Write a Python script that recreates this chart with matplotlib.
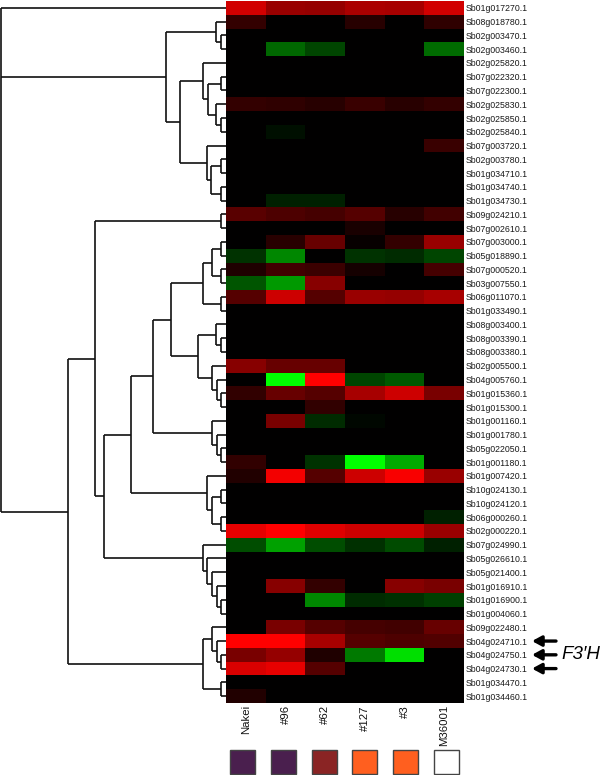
import matplotlib
matplotlib.use("Agg")
import matplotlib.pyplot as plt
import numpy as np
from matplotlib.colors import LinearSegmentedColormap
from matplotlib.patches import Rectangle

# ---------------- data ----------------
genes = ["Sb01g017270.1", "Sb08g018780.1", "Sb02g003470.1", "Sb02g003460.1", "Sb02g025820.1",
         "Sb07g022320.1", "Sb07g022300.1", "Sb02g025830.1", "Sb02g025850.1", "Sb02g025840.1",
         "Sb07g003720.1", "Sb02g003780.1", "Sb01g034710.1", "Sb01g034740.1", "Sb01g034730.1",
         "Sb09g024210.1", "Sb07g002610.1", "Sb07g003000.1", "Sb05g018890.1", "Sb07g000520.1",
         "Sb03g007550.1", "Sb06g011070.1", "Sb01g033490.1", "Sb08g003400.1", "Sb08g003390.1",
         "Sb08g003380.1", "Sb02g005500.1", "Sb04g005760.1", "Sb01g015360.1", "Sb01g015300.1",
         "Sb01g001160.1", "Sb01g001780.1", "Sb05g022050.1", "Sb01g001180.1", "Sb01g007420.1",
         "Sb10g024130.1", "Sb10g024120.1", "Sb06g000260.1", "Sb02g000220.1", "Sb07g024990.1",
         "Sb05g026610.1", "Sb05g021400.1", "Sb01g016910.1", "Sb01g016900.1", "Sb01g004060.1",
         "Sb09g022480.1", "Sb04g024710.1", "Sb04g024750.1", "Sb04g024730.1", "Sb01g034470.1",
         "Sb01g034460.1"]

samples = ["Nakei", "#96", "#62", "#127", "#3", "M36001"]

nakei = [0.82, 0.2, 0, 0, 0, 0, 0, 0.2, 0, 0,
         0, 0, 0, 0, 0, 0.35, 0, 0, -0.2, 0.12,
         -0.33, 0.33, 0, 0, 0, 0, 0.53, 0, 0.19, 0,
         0, 0, 0, 0.19, 0.13, 0, 0, 0, 0.9, -0.3,
         0, 0, 0, 0, 0, 0, 1.0, 0.47, 0.85, 0,
         0.13]
s96 = [0.6, 0, 0, -0.4, 0, 0, 0, 0.18, 0, -0.06,
       0, 0, 0, 0, -0.13, 0.3, 0, 0.16, -0.53, 0.25,
       -0.6, 0.8, 0, 0, 0, 0, 0.4, -1.0, 0.4, 0,
       0.47, 0, 0, 0, 0.95, 0, 0, 0, 1.0, -0.63,
       0, 0, 0.53, 0, 0, 0.47, 1.0, 0.58, 0.9, 0,
       0]
s62 = [0.58, 0, 0, -0.27, 0, 0, 0, 0.15, 0, 0,
       0, 0, 0, 0, -0.13, 0.27, 0, 0.4, 0, 0.23,
       0.53, 0.33, 0, 0, 0, 0, 0.4, 1.0, 0.33, 0.19,
       -0.17, 0, 0, -0.2, 0.33, 0, 0, 0, 0.87, -0.3,
       0, 0, 0.2, -0.53, 0, 0.33, 0.65, 0.12, 0.33, 0,
       0]
s127 = [0.67, 0.15, 0, 0, 0, 0, 0, 0.22, 0, 0,
        0, 0, 0, 0, 0, 0.33, 0.1, 0.03, -0.2, 0.08,
        0, 0.6, 0, 0, 0, 0, 0, -0.27, 0.65, 0,
        -0.03, 0, 0, -1.0, 0.8, 0, 0, 0, 0.8, -0.19,
        0, 0, 0, -0.17, 0, 0.27, 0.33, -0.47, 0, 0,
        0]
s3 = [0.65, 0, 0, 0, 0, 0, 0, 0.16, 0, 0,
      0, 0, 0, 0, 0, 0.15, 0, 0.2, -0.17, 0,
      0, 0.58, 0, 0, 0, 0, 0, -0.35, 0.8, 0,
      0, 0, 0, -0.67, 0.97, 0, 0, 0, 0.8, -0.29,
      0, 0, 0.53, -0.19, 0, 0.25, 0.3, -0.87, 0, 0,
      0]
m36001 = [0.82, 0.18, 0, -0.42, 0, 0, 0, 0.2, 0, 0,
          0.22, 0, 0, 0, 0, 0.25, 0, 0.6, -0.27, 0.27,
          0, 0.65, 0, 0, 0, 0, 0, 0, 0.47, 0,
          0, 0, 0, 0, 0.6, 0, 0, -0.13, 0.6, -0.13,
          0, 0, 0.47, -0.25, 0, 0.4, 0.32, 0, 0, 0,
          0]

# dendrogram: [merge height, child, child, ...]; ints are row indices
tree = [225,
        0,
        [60, [10, 1, [5, 2, 3]],
             [46, [23, 4, [18, [5, 5, 6], [10, 7, [5, 8, 9]]]],
                  [19, 10, [15, [5, 11, 12], [5, 13, 14]]]]],
        [158, [131, [5, 15, 16],
                    [122, [95, [73, [55, [23, [14.3, [5, 17, 18], [5, 19, 20]], [5, 21, 22]],
                                         [28, [10, 23, [5, 24, 25]],
                                              [14.3, 26, [9.3, 27, [5, 28, 29]]]]],
                                    [14.3, 30, [9.3, 31, [5, 32, 33]]]],
                               [18.7, 34, [14.3, [5, 35, 36], [5, 37, 38]]]],
                          [23.3, 39, [18.7, 40, [14.3, 41, [9.3, 42, [5, 43, 44]]]]]]],
              [23, [14.3, 45, [9.3, 46, [5, 47, 48]]], [5, 49, 50]]]]

marked_rows = ["Sb04g024710.1", "Sb04g024750.1", "Sb04g024730.1"]
marker_label = "F3\u2032H"
square_colors = ["#4a1f4e", "#4a1f4e", "#8a2424", "#ff5f1f", "#ff5f1f", "#ffffff"]

# ---------------- figure ----------------
W, H = 600, 775
fig = plt.figure(figsize=(W / 100, H / 100), dpi=100)
FONT = ["Liberation Sans", "DejaVu Sans"]


def rect(x0, y0, x1, y1):
    return [x0 / W, 1 - y1 / H, (x1 - x0) / W, (y1 - y0) / H]


hx0, hx1, hy0, hy1 = 226, 464, 1, 703
ax = fig.add_axes(rect(hx0, hy0, hx1, hy1))
data = np.array([nakei, s96, s62, s127, s3, m36001]).T
cmap = LinearSegmentedColormap.from_list("rg", [(0, (0, 1, 0)), (0.5, (0, 0, 0)), (1, (1, 0, 0))])
ax.imshow(data, cmap=cmap, vmin=-1, vmax=1, aspect="auto", interpolation="nearest")
ax.set_xlim(-0.5, len(samples) - 0.5)
ax.set_ylim(len(genes) - 0.5, -0.5)
for s in ax.spines.values():
    s.set_visible(False)
ax.yaxis.tick_right()
ax.set_yticks(range(len(genes)))
ax.set_yticklabels(genes, fontsize=6.3, family=FONT, color="#1a1a1a")
ax.set_xticks(range(len(samples)))
ax.set_xticklabels(samples, fontsize=8.2, family=FONT, rotation=90, color="#111111")
ax.tick_params(axis="y", length=0, pad=1.5)
ax.tick_params(axis="x", length=0, pad=1.5)

# dendrogram
dax = fig.add_axes(rect(0, hy0, hx0, hy1))
dax.set_xlim(226, 0)
dax.set_ylim(len(genes) - 0.5, -0.5)
dax.axis("off")
lc = "#111111"
lw = 1.2


def draw(node):
    if isinstance(node, int):
        return node, 0.0
    h = node[0]
    pos = [draw(c) for c in node[1:]]
    ys = [p[0] for p in pos]
    for (yc, hc) in pos:
        dax.plot([hc, h], [yc, yc], color=lc, lw=lw, clip_on=False, solid_capstyle="butt")
    dax.plot([h, h], [min(ys), max(ys)], color=lc, lw=lw, clip_on=False, solid_capstyle="butt")
    return (min(ys) + max(ys)) / 2.0, h


draw(tree)

# arrows and label
for g in marked_rows:
    r = genes.index(g)
    ax.annotate("", xy=(532 / W, r), xycoords=("figure fraction", "data"),
                xytext=(556 / W, r), textcoords=("figure fraction", "data"),
                arrowprops=dict(arrowstyle="-|>,head_length=0.55,head_width=0.3",
                                lw=2.4, color="black", shrinkA=0, shrinkB=0),
                annotation_clip=False)
mid = genes.index(marked_rows[1])
ax.annotate(marker_label, xy=(561 / W, mid), xycoords=("figure fraction", "data"),
            fontsize=13.5, style="italic", family=FONT, va="center", ha="left",
            annotation_clip=False)

# coloured squares
sax = fig.add_axes(rect(222, 748, 467, 775))
sax.set_xlim(0, len(samples))
sax.set_ylim(0, 1)
sax.axis("off")
sw = 25 / 40.8
for i, c in enumerate(square_colors):
    sax.add_patch(Rectangle((i + 0.5 - sw / 2, 0.04), sw, 0.9, facecolor=c,
                            edgecolor="#444444", lw=1.0))

fig.savefig("out.png", dpi=100)
